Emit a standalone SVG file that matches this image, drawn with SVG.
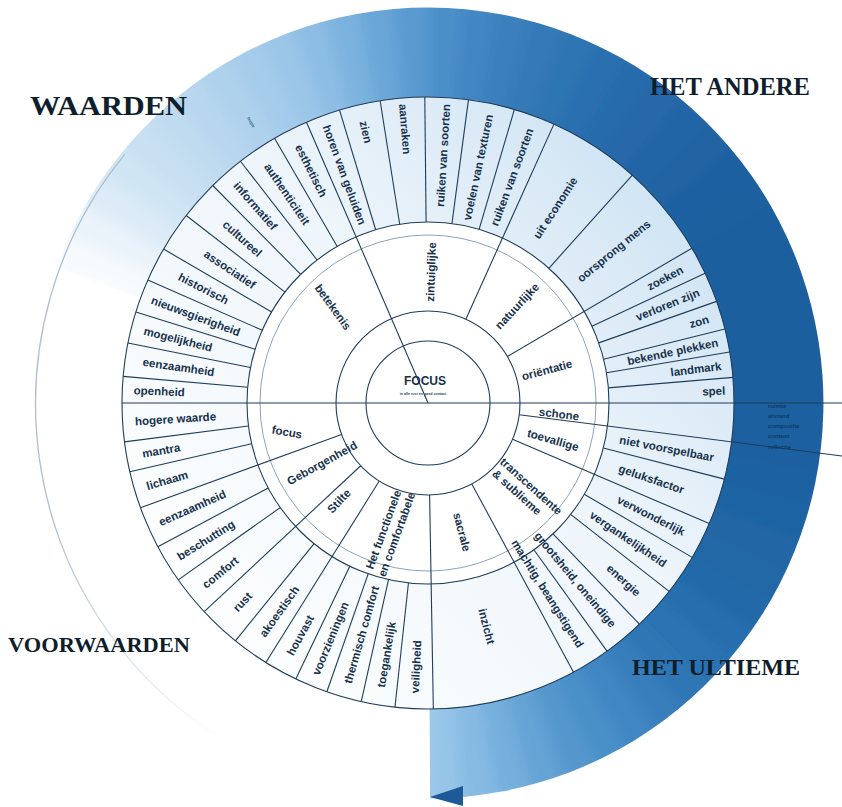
<svg xmlns="http://www.w3.org/2000/svg" width="842" height="807" viewBox="0 0 842 807">
<defs>
<style>
.ln{stroke:#1f3d5a;stroke-width:1.1;fill:none}
.lb{font-family:"Liberation Sans",Arial,sans-serif;font-weight:bold;font-size:11.5px;fill:#17324c;text-anchor:middle;dominant-baseline:central}
.ttl{font-family:"Liberation Serif","Times New Roman",serif;font-weight:bold;fill:#0f1e2c}
.bs{fill:none;stroke-width:120;stroke-dasharray:32 2300}
.tiny{font-family:"Liberation Sans",Arial,sans-serif;font-weight:bold;fill:#0f3a66}
</style>
<linearGradient id="rg" gradientUnits="userSpaceOnUse" x1="200" y1="620" x2="680" y2="170">
<stop offset="0" stop-color="#fbfdfe"/><stop offset="0.5" stop-color="#eef5fb"/><stop offset="1" stop-color="#c9e0f2"/>
</linearGradient>
<linearGradient id="fade" gradientUnits="userSpaceOnUse" x1="40" y1="520" x2="225" y2="740">
<stop offset="0" stop-color="#aebfcc" stop-opacity="1"/><stop offset="1" stop-color="#aebfcc" stop-opacity="0"/>
</linearGradient>
<filter id="soft" x="-20%" y="-20%" width="140%" height="140%"><feGaussianBlur stdDeviation="7"/></filter>
<clipPath id="bandclip"><path d="M56.3,267.7 A395.5,395.5 0 1 1 430.07,798.5 L429.6,703 A300,300 0 1 0 146.1,300.4 Z"/></clipPath>
<line id="o" x1="181" y1="0" x2="306" y2="0"/>
<line id="m" x1="92" y1="0" x2="306" y2="0"/>
</defs>
<rect width="842" height="807" fill="#ffffff"/>

<g id="band" clip-path="url(#bandclip)">
<g filter="url(#soft)">
<g transform="translate(428,403)">
<circle class="bs" r="351" stroke="#ffffff" transform="rotate(195)"/>
<circle class="bs" r="351" stroke="#f6fafd" transform="rotate(200)"/>
<circle class="bs" r="351" stroke="#eaf3fa" transform="rotate(205)"/>
<circle class="bs" r="351" stroke="#dcebf7" transform="rotate(210)"/>
<circle class="bs" r="351" stroke="#d0e5f4" transform="rotate(215)"/>
<circle class="bs" r="351" stroke="#c8e0f2" transform="rotate(220)"/>
<circle class="bs" r="351" stroke="#c0dbf0" transform="rotate(225)"/>
<circle class="bs" r="351" stroke="#b8d6ee" transform="rotate(230)"/>
<circle class="bs" r="351" stroke="#afd1ec" transform="rotate(235)"/>
<circle class="bs" r="351" stroke="#a6cceb" transform="rotate(240)"/>
<circle class="bs" r="351" stroke="#9cc6e8" transform="rotate(245)"/>
<circle class="bs" r="351" stroke="#8dbde4" transform="rotate(250)"/>
<circle class="bs" r="351" stroke="#7cb2de" transform="rotate(255)"/>
<circle class="bs" r="351" stroke="#6aa6d7" transform="rotate(260)"/>
<circle class="bs" r="351" stroke="#5a9ad0" transform="rotate(265)"/>
<circle class="bs" r="351" stroke="#4c8fc9" transform="rotate(270)"/>
<circle class="bs" r="351" stroke="#4286c3" transform="rotate(275)"/>
<circle class="bs" r="351" stroke="#3b7fbd" transform="rotate(280)"/>
<circle class="bs" r="351" stroke="#3479b7" transform="rotate(285)"/>
<circle class="bs" r="351" stroke="#2f74b3" transform="rotate(290)"/>
<circle class="bs" r="351" stroke="#2b70b0" transform="rotate(295)"/>
<circle class="bs" r="351" stroke="#286cad" transform="rotate(300)"/>
<circle class="bs" r="351" stroke="#2568a9" transform="rotate(305)"/>
<circle class="bs" r="351" stroke="#2265a6" transform="rotate(310)"/>
<circle class="bs" r="351" stroke="#2063a4" transform="rotate(315)"/>
<circle class="bs" r="351" stroke="#1f61a2" transform="rotate(320)"/>
<circle class="bs" r="351" stroke="#1d60a0" transform="rotate(325)"/>
<circle class="bs" r="351" stroke="#1c5f9f" transform="rotate(330)"/>
<circle class="bs" r="351" stroke="#1c5f9f" transform="rotate(335)"/>
<circle class="bs" r="351" stroke="#1b5e9e" transform="rotate(340)"/>
<circle class="bs" r="351" stroke="#1b5e9e" transform="rotate(345)"/>
<circle class="bs" r="351" stroke="#1b5e9e" transform="rotate(350)"/>
<circle class="bs" r="351" stroke="#1c5f9f" transform="rotate(355)"/>
<circle class="bs" r="351" stroke="#1c60a0" transform="rotate(360)"/>
<circle class="bs" r="351" stroke="#1d61a1" transform="rotate(365)"/>
<circle class="bs" r="351" stroke="#1d62a2" transform="rotate(370)"/>
<circle class="bs" r="351" stroke="#1f64a4" transform="rotate(375)"/>
<circle class="bs" r="351" stroke="#2066a6" transform="rotate(380)"/>
<circle class="bs" r="351" stroke="#2267a7" transform="rotate(385)"/>
<circle class="bs" r="351" stroke="#2469a9" transform="rotate(390)"/>
<circle class="bs" r="351" stroke="#286eae" transform="rotate(395)"/>
<circle class="bs" r="351" stroke="#2b72b1" transform="rotate(400)"/>
<circle class="bs" r="351" stroke="#2f76b5" transform="rotate(405)"/>
<circle class="bs" r="351" stroke="#377ebc" transform="rotate(410)"/>
<circle class="bs" r="351" stroke="#3f86c2" transform="rotate(415)"/>
<circle class="bs" r="351" stroke="#4a8fc8" transform="rotate(420)"/>
<circle class="bs" r="351" stroke="#5597cd" transform="rotate(425)"/>
<circle class="bs" r="351" stroke="#65a3d5" transform="rotate(430)"/>
<circle class="bs" r="351" stroke="#75afdd" transform="rotate(435)"/>
<circle class="bs" r="351" stroke="#86bae3" transform="rotate(440)"/>
<circle class="bs" r="351" stroke="#97c5e8" transform="rotate(445)"/>
<circle class="bs" r="351" stroke="#a6cfee" transform="rotate(450)"/>
<circle class="bs" r="351" stroke="#a6cfee" transform="rotate(455)"/>
</g>
</g>
</g>
<path id="spiral-edge" d="M124.7,154.4 A394,394 0 0 0 225,740.7" fill="none" stroke="url(#fade)" stroke-width="1.3"/>
<polygon id="arrowhead" points="430,797 463,786 463,806" fill="#1c5a98"/>

<g id="wheel" transform="translate(428,403)">
<circle r="306" fill="url(#rg)"/>
<circle r="181" fill="#ffffff"/>
<circle r="306" class="ln" stroke-width="1.3"/>
<circle r="181" class="ln"/>
<circle r="168" fill="none" stroke="#8ca4b8" stroke-width="1"/>
<circle r="92" class="ln" stroke-width="1.2"/>
<circle r="62" class="ln" stroke-width="1.2"/>
</g>

<g id="connectors" class="ln" transform="translate(428,403)">
<line x1="-306" y1="0" x2="414" y2="0"/>
<line x1="92" y1="0" x2="417.4" y2="0" transform="rotate(7.3)"/>
<line x1="0" y1="0" x2="306" y2="0" transform="rotate(246.6)"/>
<use href="#m" transform="rotate(160)"/>
<use href="#m" transform="rotate(137)"/>
<use href="#m" transform="rotate(122)"/>
<use href="#m" transform="rotate(89)"/>
<use href="#m" transform="rotate(61.6)"/>
<use href="#m" transform="rotate(23.2)"/>
<use href="#m" transform="rotate(294.3)"/>
<use href="#m" transform="rotate(329.6)"/>
<use href="#o" transform="rotate(185)"/>
<use href="#o" transform="rotate(191.3)"/>
<use href="#o" transform="rotate(197.3)"/>
<use href="#o" transform="rotate(203.7)"/>
<use href="#o" transform="rotate(210.2)"/>
<use href="#o" transform="rotate(217.8)"/>
<use href="#o" transform="rotate(225.3)"/>
<use href="#o" transform="rotate(232.2)"/>
<use href="#o" transform="rotate(239.9)"/>
<use href="#o" transform="rotate(253.2)"/>
<use href="#o" transform="rotate(261)"/>
<use href="#o" transform="rotate(269.4)"/>
<use href="#o" transform="rotate(277.6)"/>
<use href="#o" transform="rotate(286.4)"/>
<use href="#o" transform="rotate(311.9)"/>
<use href="#o" transform="rotate(334.9)"/>
<use href="#o" transform="rotate(340.6)"/>
<use href="#o" transform="rotate(346)"/>
<use href="#o" transform="rotate(350.4)"/>
<use href="#o" transform="rotate(355.2)"/>
<use href="#o" transform="rotate(14.4)"/>
<use href="#o" transform="rotate(30.3)"/>
<use href="#o" transform="rotate(38)"/>
<use href="#o" transform="rotate(46.3)"/>
<use href="#o" transform="rotate(54.2)"/>
<use href="#o" transform="rotate(96.2)"/>
<use href="#o" transform="rotate(102.6)"/>
<use href="#o" transform="rotate(109.3)"/>
<use href="#o" transform="rotate(115.6)"/>
<use href="#o" transform="rotate(129)"/>
<use href="#o" transform="rotate(144.7)"/>
<use href="#o" transform="rotate(152)"/>
<use href="#o" transform="rotate(167)"/>
<use href="#o" transform="rotate(172.7)"/>
</g>

<g id="outer-labels" class="lb" transform="translate(428,403)">
<text transform="rotate(182.5) translate(269,0) rotate(180)">openheid</text>
<text transform="rotate(188.2) translate(252,0) rotate(180)">eenzaamheid</text>
<text transform="rotate(194.3) translate(258,0) rotate(180)">mogelijkheid</text>
<text transform="rotate(200.5) translate(248,0) rotate(180)">nieuwsgierigheid</text>
<text transform="rotate(207) translate(252,0) rotate(180)">historisch</text>
<text transform="rotate(214) translate(239,0) rotate(180)">associatief</text>
<text transform="rotate(221.5) translate(248,0) rotate(180)">cultureel</text>
<text transform="rotate(228.8) translate(262,0) rotate(180)">informatief</text>
<text transform="rotate(236) translate(252,0) rotate(180)">authenticiteit</text>
<text transform="rotate(243.3) translate(260,0) rotate(180)">esthetisch</text>
<text transform="rotate(249.9) translate(243,0) rotate(180)">horen van geluiden</text>
<text transform="rotate(257.1) translate(278,0) rotate(180)">zien</text>
<text transform="rotate(265.2) translate(275,0) rotate(180)">aanraken</text>
<text transform="rotate(273.5) translate(248,0)">ruiken van soorten</text>
<text transform="rotate(282) translate(241,0)">voelen van texturen</text>
<text transform="rotate(290.4) translate(241,0)">ruiken van soorten</text>
<text transform="rotate(303.1) translate(233,0)">uit economie</text>
<text transform="rotate(320.7) translate(240,0)">oorsprong mens</text>
<text transform="rotate(332.2) translate(268,0)">zoeken</text>
<text transform="rotate(337.7) translate(259,0)">verloren zijn</text>
<text transform="rotate(343.3) translate(283,0)">zon</text>
<text transform="rotate(348.2) translate(250,0)">bekende plekken</text>
<text transform="rotate(352.8) translate(270,0)">landmark</text>
<text transform="rotate(357.6) translate(286,0)">spel</text>
<text transform="rotate(10.8) translate(243,0)">niet voorspelbaar</text>
<text transform="rotate(18.8) translate(236,0)">geluksfactor</text>
<text transform="rotate(26.8) translate(250,0)">verwonderlijk</text>
<text transform="rotate(34.2) translate(242,0)">vergankelijkheid</text>
<text transform="rotate(42.2) translate(264,0)">energie</text>
<text transform="rotate(50.2) translate(230,0)">grootsheid, oneindige</text>
<text transform="rotate(57.9) translate(225,0)">machtig, beangstigend</text>
<text transform="rotate(75.3) translate(231,0)">inzicht</text>
<text transform="rotate(92.6) translate(264,0) rotate(180)">veiligheid</text>
<text transform="rotate(99.4) translate(255,0) rotate(180)">toegankelijk</text>
<text transform="rotate(106) translate(241,0) rotate(180)">thermisch comfort</text>
<text transform="rotate(112.5) translate(255,0) rotate(180)">voorzieningen</text>
<text transform="rotate(118.8) translate(265,0) rotate(180)">houvast</text>
<text transform="rotate(125.5) translate(256,0) rotate(180)">akoestisch</text>
<text transform="rotate(133) translate(272,0) rotate(180)">rust</text>
<text transform="rotate(140.8) translate(268,0) rotate(180)">comfort</text>
<text transform="rotate(148.3) translate(261,0) rotate(180)">beschutting</text>
<text transform="rotate(156) translate(258,0) rotate(180)">eenzaamheid</text>
<text transform="rotate(163.5) translate(272,0) rotate(180)">lichaam</text>
<text transform="rotate(169.9) translate(271,0) rotate(180)">mantra</text>
<text transform="rotate(176.4) translate(253,0) rotate(180)">hogere waarde</text>
</g>

<g id="middle-labels" class="lb">
<text transform="translate(333,307) rotate(54)">betekenis</text>
<text transform="translate(431,272) rotate(-88)">zintuiglijke</text>
<text transform="translate(517,306) rotate(-47)">natuurlijke</text>
<text transform="translate(547,370) rotate(-15)">oriëntatie</text>
<text transform="translate(559,414) rotate(7)">schone</text>
<text transform="translate(553,440) rotate(16)">toevallige</text>
<text transform="translate(502,460) rotate(42)" style="text-anchor:start"><tspan x="0" y="0">transcendente</tspan><tspan x="2" y="14">&amp; sublieme</tspan></text>
<text transform="translate(462,532) rotate(75)">sacrale</text>
<text transform="translate(390,532) rotate(-70)"><tspan x="0" y="-7">Het functionele</tspan><tspan x="0" y="7">en comfortabele</tspan></text>
<text transform="translate(339,501) rotate(-47)">Stilte</text>
<text transform="translate(322,463) rotate(-29)">Geborgenheid</text>
<text transform="translate(287,432) rotate(10)">focus</text>
</g>

<g id="focus-node">
<text x="425" y="381" class="lb" style="font-size:12px">FOCUS</text>
<text x="423" y="395" class="tiny" style="font-size:3.6px;text-anchor:middle;fill:#2a4660">in alle rust en goed contact</text>
</g>

<g id="band-notes" class="tiny" style="font-size:6px">
<text x="768" y="408">ruimte</text>
<text x="768" y="418">afstand</text>
<text x="768" y="428">compositie</text>
<text x="768" y="438">context</text>
<text x="768" y="449">reflectie</text>
<text transform="translate(250,123) rotate(60)" style="font-size:4px;text-anchor:middle;fill:#2a5d8a">leegte</text>
</g>

<g id="titles">
<text class="ttl" x="30" y="115" font-size="28" textLength="157" lengthAdjust="spacingAndGlyphs">WAARDEN</text>
<text class="ttl" x="650" y="95" font-size="26" textLength="160" lengthAdjust="spacingAndGlyphs">HET ANDERE</text>
<text class="ttl" x="8" y="652" font-size="22" textLength="182" lengthAdjust="spacingAndGlyphs">VOORWAARDEN</text>
<text class="ttl" x="632" y="675" font-size="24" textLength="168" lengthAdjust="spacingAndGlyphs">HET ULTIEME</text>
</g>
</svg>
